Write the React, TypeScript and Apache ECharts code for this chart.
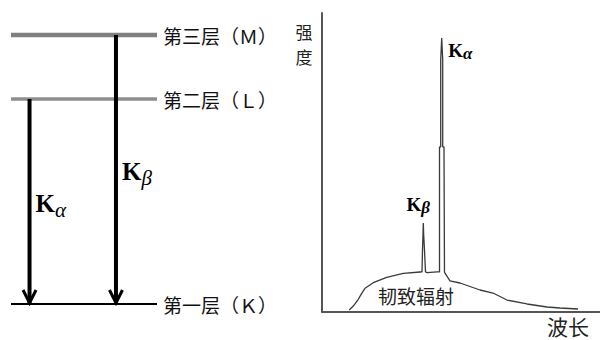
import React, { useEffect, useRef } from 'react';
import * as echarts from 'echarts';

// Energy-level diagram (left)
const levelNames = ['第一层（Ｋ）', '第二层（Ｌ）', '第三层（Ｍ）'];
const levelEnergies = [0, 7.62, 10];
const levelColors = ['#000000', '#8e8e8e', '#808080'];
const levelWidths = [2, 3.5, 4.5];

const transitionNames = ['α', 'β'];
const transitionX = [12.7, 71.9];
const transitionFrom = [7.62, 10];
const transitionTo = [0, 0];

// X-ray spectrum (right)
const wavelength = [
  9.82, 11.26, 13.06, 14.28, 15.47, 18.45, 23.27, 29.24, 35.25,
  35.97, 36.15, 36.33, 36.44, 36.58, 36.87, 37.23, 37.77, 41.4,
  42.27, 42.27, 42.7, 42.7, 43.06, 43.42, 43.42, 43.88, 44.06,
  44.24, 46.04, 49.64, 56.83, 61.5, 66.55, 73.74, 80.94, 85.6, 92.1,
];
const intensity = [
  0.67, 2.0, 4.25, 6.25, 7.93, 9.8, 11.6, 12.94, 13.38,
  13.4, 20.7, 25.75, 29.8, 25.75, 20.7, 13.4, 13.2, 13.4,
  13.4, 55.2, 55.2, 84.3, 91.6, 84.3, 55.2, 55.2, 13.4,
  13.0, 10.4, 9.7, 7.36, 6.35, 4.0, 2.68, 1.67, 1.34, 1.0,
];
const peakNames = ['α', 'β'];
const peakWavelength = [43.06, 36.44];
const peakIntensity = [91.6, 29.8];

const yAxisTitle = ['强', '度'];
const xAxisTitle = '波长';
const continuumLabel = '韧致辐射';

const CJK = '"Noto Sans CJK SC", "Noto Sans", sans-serif';
const SERIF = '"Liberation Serif", "DejaVu Serif", serif';

export default function App() {
  const ref = useRef<HTMLDivElement>(null);
  useEffect(() => {
    if (!ref.current) return;
    const chart = echarts.init(ref.current, null, { renderer: 'svg' });

    const levelSeries = levelEnergies.map((e, i) => ({
      type: 'line',
      xAxisIndex: 0,
      yAxisIndex: 0,
      data: [[0, e], [100, e]],
      symbol: 'none',
      showSymbol: false,
      silent: true,
      clip: false,
      lineStyle: { color: levelColors[i], width: levelWidths[i] },
      z: 2,
    }));

    const option: any = {
      animation: false,
      backgroundColor: '#ffffff',
      grid: [
        { left: 11, right: 443, top: 35, bottom: 36 },
        { left: 322, right: 0, top: 13, bottom: 28 },
      ],
      xAxis: [
        { type: 'value', gridIndex: 0, min: 0, max: 100, show: false },
        {
          type: 'value', gridIndex: 1, min: 0, max: 100,
          axisLine: { show: true, lineStyle: { color: '#555', width: 2 } },
          axisTick: { show: false }, axisLabel: { show: false }, splitLine: { show: false },
        },
      ],
      yAxis: [
        {
          type: 'value', gridIndex: 0, min: 0, max: 10, position: 'right',
          axisLine: { show: false }, axisTick: { show: false }, splitLine: { show: false },
          axisLabel: {
            show: true,
            customValues: levelEnergies,
            formatter: (v: number) => {
              const i = levelEnergies.findIndex((e) => Math.abs(e - v) < 1e-6);
              return i >= 0 ? levelNames[i] : '';
            },
            margin: 6,
            fontSize: 19,
            color: '#111',
            fontFamily: CJK,
          },
        },
        {
          type: 'value', gridIndex: 1, min: 0, max: 100,
          axisLine: { show: true, lineStyle: { color: '#555', width: 2 } },
          axisTick: { show: false }, axisLabel: { show: false }, splitLine: { show: false },
        },
      ],
      series: [
        ...levelSeries,
        {
          type: 'custom',
          xAxisIndex: 0,
          yAxisIndex: 0,
          clip: false,
          z: 3,
          data: transitionX.map((x, i) => [x, transitionFrom[i], transitionTo[i]]),
          renderItem: (params: any, api: any) => {
            const x = api.value(0);
            const p1 = api.coord([x, api.value(1)]);
            const p2 = api.coord([x, api.value(2)]);
            const name = transitionNames[params.dataIndex];
            const tipY = p2[1] - 1;
            return {
              type: 'group',
              children: [
                {
                  type: 'line',
                  shape: { x1: p1[0], y1: p1[1], x2: p2[0], y2: tipY },
                  style: { stroke: '#000', lineWidth: 4 },
                },
                {
                  type: 'polyline',
                  shape: { points: [[p2[0] - 6.5, tipY - 13], [p2[0], tipY], [p2[0] + 6.5, tipY - 13]] },
                  style: { stroke: '#000', lineWidth: 3, fill: null },
                },
                {
                  type: 'text',
                  x: p2[0] + 6,
                  y: (p1[1] + p2[1]) / 2 + 2,
                  style: {
                    text: `{k|K}{s|${name}}`,
                    verticalAlign: 'middle',
                    align: 'left',
                    rich: {
                      k: { fontFamily: SERIF, fontSize: 25, fontWeight: 'bold', fill: '#000', lineHeight: 28 },
                      s: { fontFamily: SERIF, fontSize: 21, fontStyle: 'italic', fill: '#000', padding: [12, 0, 0, 0] },
                    },
                  },
                },
              ],
            };
          },
        },
        {
          type: 'line',
          xAxisIndex: 1,
          yAxisIndex: 1,
          data: wavelength.map((w, i) => [w, intensity[i]]),
          symbol: 'none',
          showSymbol: false,
          clip: false,
          lineStyle: { color: '#3a3a3a', width: 1.3 },
          z: 3,
          markPoint: {
            symbol: 'circle',
            symbolSize: 1,
            itemStyle: { color: 'rgba(0,0,0,0)' },
            data: peakNames.map((n, i) => ({
              coord: [peakWavelength[i], peakIntensity[i]],
              label: {
                show: true,
                formatter: `{k|K}{s|${n}}`,
                position: i === 0 ? 'right' : 'top',
                distance: 6,
                offset: i === 0 ? [0, 12] : [-5, 0],
                rich: {
                  k: { fontFamily: SERIF, fontSize: 19, fontWeight: 'bold', color: '#000' },
                  s: { fontFamily: SERIF, fontSize: 17, fontWeight: 'bold', fontStyle: 'italic', color: '#000', padding: [6, 0, 0, 0] },
                },
              },
            })),
          },
        },
      ],
      graphic: [
        {
          type: 'text', x: 304, y: 31,
          style: { text: yAxisTitle[0], font: `17px ${CJK}`, fill: '#222', align: 'center', verticalAlign: 'middle' },
        },
        {
          type: 'text', x: 304, y: 56,
          style: { text: yAxisTitle[1], font: `17px ${CJK}`, fill: '#222', align: 'center', verticalAlign: 'middle' },
        },
        {
          type: 'text', x: 568, y: 326,
          style: { text: xAxisTitle, font: `21px ${CJK}`, fill: '#222', align: 'center', verticalAlign: 'middle' },
        },
        {
          type: 'text', x: 416, y: 295,
          style: { text: continuumLabel, font: `19px ${CJK}`, fill: '#222', align: 'center', verticalAlign: 'middle' },
        },
      ],
    };
    chart.setOption(option);
    return () => chart.dispose();
  }, []);
  return (
    <div
      ref={ref}
      style={{ position: 'fixed', left: 0, top: 0, width: 600, height: 340, background: '#fff' }}
    />
  );
}
